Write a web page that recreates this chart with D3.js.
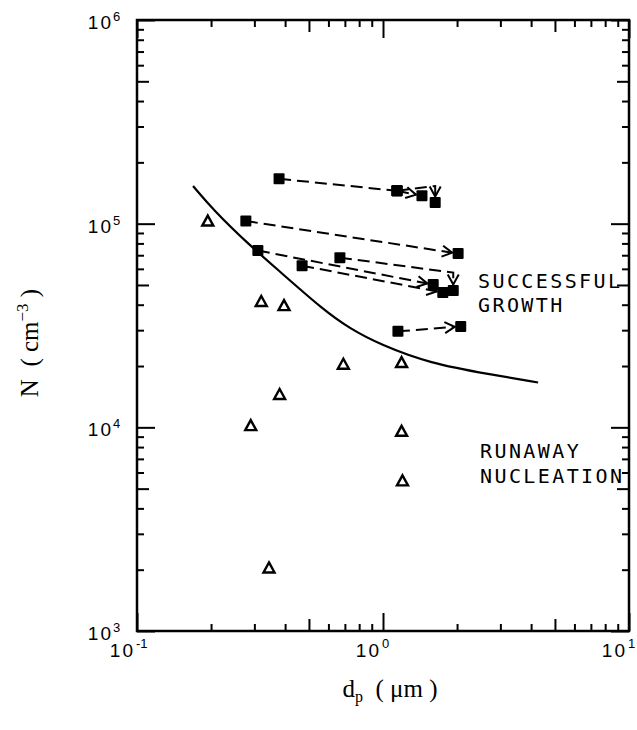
<!DOCTYPE html>
<html>
<head>
<meta charset="utf-8">
<script src="https://cdn.jsdelivr.net/npm/d3@7"></script>
<style>
  body { margin: 0; background: #fff; }
</style>
</head>
<body>
<div id="chart"></div>
<script>
// ---- data ----
// open triangles: runaway nucleation cases
const triD = [0.194, 0.32, 0.396, 0.69, 1.19, 0.38, 0.29, 1.19, 1.2, 0.344];
const triN = [103000, 41500, 39600, 20400, 20800, 14500, 10200, 9560, 5460, 2040];

// filled squares joined by dashed arrows (growth paths), [d, N]
const pathA1 = [[0.378, 166000], [1.14, 145000]];
const pathA2 = [[1.14, 145000], [1.44, 137000]];
const pathA3 = [[1.14, 145000], [1.63, 153000], [1.63, 127000]];
const pathB = [[0.277, 103000], [2.02, 71300]];
const pathC1 = [[0.31, 73800], [1.60, 50200]];
const pathC2 = [[0.469, 62200], [1.75, 45900]];
const pathC3 = [[0.668, 68100], [1.93, 57500], [1.93, 47000]];
const pathD = [[1.15, 29600], [2.07, 31300]];
const arrows = [pathA2, pathA3, pathB, pathC1, pathC2, pathC3, pathD];
const plain = [pathA1];

// boundary curve
const curveD = [0.169, 0.204, 0.282, 0.381, 0.57, 0.734, 0.973, 1.55, 2.72, 4.27];
const curveN = [153000, 117000, 79800, 58200, 37900, 30500, 25500, 20600, 18200, 16600];

// axis ticks
const xMajor = [0.1, 1, 10], xMid = [0.5, 5];
const xMinor = [0.2, 0.3, 0.4, 0.6, 0.7, 0.8, 0.9, 2, 3, 4, 6, 7, 8, 9];
const xExp = ["-1", "0", "1"];
const yMajor = [1e3, 1e4, 1e5, 1e6], yMid = [5e3, 5e4, 5e5];
const yMinor = [2e3, 3e3, 4e3, 6e3, 7e3, 8e3, 9e3, 2e4, 3e4, 4e4, 6e4, 7e4, 8e4, 9e4,
  2e5, 3e5, 4e5, 6e5, 7e5, 8e5, 9e5];
const yExp = ["3", "4", "5", "6"];

const W = 637, H = 730;
const mLeft = 137, mRight = 629, mTop = 20, mBottom = 631;

const svg = d3.select("#chart").append("svg")
  .attr("width", W).attr("height", H)
  .attr("viewBox", [0, 0, W, H]);

const x = d3.scaleLog().domain([0.1, 10]).range([mLeft, mRight]);
const y = d3.scaleLog().domain([1e3, 1e6]).range([mBottom, mTop]);

// arrow head
svg.append("defs").append("marker")
  .attr("id", "arr")
  .attr("viewBox", "-1 -7 12 14")
  .attr("markerWidth", 12).attr("markerHeight", 14)
  .attr("markerUnits", "userSpaceOnUse")
  .attr("refX", 10).attr("refY", 0)
  .attr("orient", "auto")
  .append("path")
  .attr("d", "M0,-5.5L10,0L0,5.5")
  .attr("fill", "none").attr("stroke", "#000").attr("stroke-width", 2);

// ticks, drawn inward on all four sides
function ticks(gen, vals, size, tx, ty) {
  const g = svg.append("g").attr("transform", `translate(${tx},${ty})`)
    .call(gen.tickValues(vals).tickSize(size).tickFormat(""));
  g.select(".domain").remove();
  g.selectAll("line").attr("stroke", "#000").attr("stroke-width", 2);
}
[[xMajor, 18], [xMid, 12], [xMinor, 7]].forEach(([v, s]) => {
  ticks(d3.axisBottom(x), v, -s, 0, mBottom);
  ticks(d3.axisTop(x), v, -s, 0, mTop);
});
[[yMajor, 18], [yMid, 12], [yMinor, 7]].forEach(([v, s]) => {
  ticks(d3.axisLeft(y), v, -s, mLeft, 0);
  ticks(d3.axisRight(y), v, -s, mRight, 0);
});

svg.append("rect")
  .attr("x", mLeft).attr("y", mTop)
  .attr("width", mRight - mLeft).attr("height", mBottom - mTop)
  .attr("fill", "none").attr("stroke", "#000").attr("stroke-width", 2.5);

// tick labels
const lab = svg.append("g").attr("font-family", "Liberation Sans, Arial, sans-serif").attr("fill", "#000");
xMajor.forEach((v, i) => {
  lab.append("text").attr("x", x(v) - 2).attr("y", mBottom + 26)
    .attr("text-anchor", "end").attr("font-size", 19).attr("letter-spacing", 2).text("10");
  lab.append("text").attr("x", x(v) - 1).attr("y", mBottom + 17)
    .attr("font-size", 13).text(xExp[i]);
});
yMajor.forEach((v, i) => {
  lab.append("text").attr("x", mLeft - 24).attr("y", y(v) + 9)
    .attr("text-anchor", "end").attr("font-size", 19).attr("letter-spacing", 2).text("10");
  lab.append("text").attr("x", mLeft - 24).attr("y", y(v) + 1)
    .attr("font-size", 13).text(yExp[i]);
});

// axis titles
svg.append("text")
  .attr("transform", `translate(38,343) rotate(-90)`)
  .attr("text-anchor", "middle")
  .attr("font-family", "Liberation Serif, Times New Roman, serif")
  .attr("font-size", 25)
  .html('N&#160;&#160;(&#160;cm<tspan dy="-10" font-size="17">−3</tspan><tspan dy="10">&#160;)</tspan>');
svg.append("text")
  .attr("x", 390).attr("y", 697)
  .attr("text-anchor", "middle")
  .attr("font-family", "Liberation Serif, Times New Roman, serif")
  .attr("font-size", 25)
  .html('d<tspan dy="5" font-size="16">p</tspan><tspan dy="-5">&#160;&#160;(&#160;μm&#160;)</tspan>');

// boundary curve
const curvePts = curveD.map((d, i) => [x(d), y(curveN[i])]);
svg.append("path")
  .attr("d", d3.line().curve(d3.curveBasis)(curvePts))
  .attr("fill", "none").attr("stroke", "#000").attr("stroke-width", 2.2);

// dashed growth paths
const dashLine = d3.line();
function shorten(pts, by) {
  const n = pts.length, a = pts[n - 2], b = pts[n - 1];
  const dx = b[0] - a[0], dy = b[1] - a[1], L = Math.hypot(dx, dy);
  return pts.slice(0, n - 1).concat([[b[0] - dx / L * by, b[1] - dy / L * by]]);
}
plain.concat(arrows).forEach(p => {
  const px = p.map(([d, n]) => [x(d), y(n)]);
  const isArrow = arrows.includes(p);
  svg.append("path")
    .attr("d", dashLine(isArrow ? shorten(px, 6) : px))
    .attr("fill", "none").attr("stroke", "#000").attr("stroke-width", 2)
    .attr("stroke-dasharray", "12,6")
    .attr("marker-end", isArrow ? "url(#arr)" : null);
});

// squares at every path end point
const sq = [];
plain.concat(arrows).forEach(p => { sq.push(p[0]); sq.push(p[p.length - 1]); });
svg.append("g").selectAll("rect").data(sq).join("rect")
  .attr("x", d => x(d[0]) - 5.5).attr("y", d => y(d[1]) - 5.5)
  .attr("width", 11).attr("height", 11).attr("rx", 1).attr("fill", "#000");

// open triangles
svg.append("g").selectAll("path").data(triD).join("path")
  .attr("transform", (d, i) => `translate(${x(d)},${y(triN[i])})`)
  .attr("d", "M0,-5.5L5.5,4.5L-5.5,4.5Z")
  .attr("fill", "none").attr("stroke", "#000").attr("stroke-width", 2.4);

// region labels
const reg = svg.append("g")
  .attr("font-family", "DejaVu Sans Mono, monospace")
  .attr("font-size", 20).attr("letter-spacing", 2.4).attr("fill", "#000");
reg.append("text").attr("x", 478).attr("y", 288).text("SUCCESSFUL");
reg.append("text").attr("x", 478).attr("y", 312).text("GROWTH");
reg.append("text").attr("x", 480).attr("y", 458).text("RUNAWAY");
reg.append("text").attr("x", 480).attr("y", 483).text("NUCLEATION");
</script>
</body>
</html>
